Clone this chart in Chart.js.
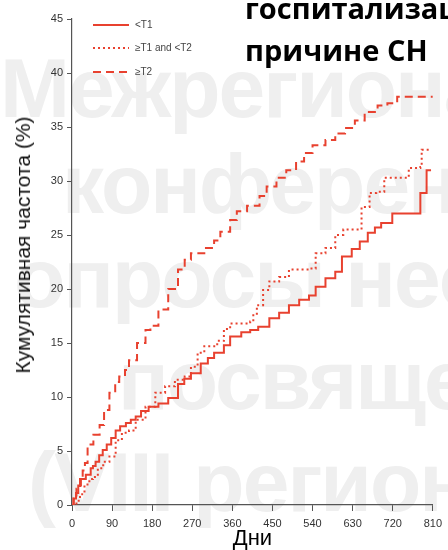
<!DOCTYPE html>
<html lang="ru">
<head>
<meta charset="utf-8">
<script src="https://cdn.jsdelivr.net/npm/chart.js@4.4.1/dist/chart.umd.min.js"></script>
<style>
  html, body { margin: 0; padding: 0; background: #fff; }
  #page { position: relative; width: 448px; height: 550px; overflow: hidden; }
  .wm {
    position: absolute;
    font-family: 'Liberation Sans', Arial, sans-serif;
    font-weight: bold;
    font-size: 84px;
    line-height: 84px;
    color: #efefef;
    white-space: nowrap;
    letter-spacing: -2px;
  }
  .slide {
    position: absolute;
    left: 245px;
    font-family: 'Open Sans', sans-serif;
    font-weight: bold;
    font-size: 29px;
    line-height: 29px;
    color: #000;
    white-space: nowrap;
  }
  #ytitle {
    position: absolute;
    left: 23px;
    top: 245px;
    transform: translate(-50%, -50%) rotate(-90deg);
    font-family: 'Liberation Sans', Arial, sans-serif;
    font-size: 21px;
    color: #111;
    white-space: nowrap;
  }
  #chart { position: absolute; left: 0; top: 0; }
</style>
</head>
<body>
<div id="page">
  <div class="wm" style="left:0px; top:46px;">Межрегиональная</div>
  <div class="wm" style="left:62px; top:142px;">конференция</div>
  <div class="wm" style="left:14px; top:236px;">опросы неотложной</div>
  <div class="wm" style="left:118px; top:338px;">посвященная</div>
  <div class="wm" style="left:28px; top:440px;">(VIII региональная</div>

  <canvas id="chart" width="448" height="550"></canvas>

  <div class="slide" style="top:-7px;">госпитализации по</div>
  <div class="slide" style="top:35px;">причине СН</div>
  <div id="ytitle">Кумулятивная частота (%)</div>
</div>

<script>
// серии: дни наблюдения и кумулятивная частота (%)
const seriesNames = ['<T1', '≥T1 and <T2', '≥T2'];

const daysLow = [0, 4, 9, 14, 20, 31, 42, 47, 53, 61, 69, 78, 88, 98, 108, 121, 132, 143, 155, 172,
  194, 216, 238, 252, 267, 289, 305, 319, 341, 355, 380, 400, 418, 443, 465, 487, 510, 532, 547, 569,
  591, 606, 628, 646, 664, 680, 694, 719, 782, 796, 806];
const pctLow = [0, 0.6, 1.1, 1.8, 2.4, 2.8, 3.4, 3.6, 4.0, 4.6, 5.1, 5.6, 6.2, 6.9, 7.3, 7.6, 7.9, 8.2, 8.7, 9.1,
  9.4, 9.9, 11.2, 11.7, 12.2, 13.1, 13.6, 14.1, 14.8, 15.6, 16.0, 16.2, 16.5, 17.3, 17.8, 18.5, 19.0, 19.4, 20.2, 21.0,
  21.6, 23.0, 23.7, 24.4, 25.2, 25.7, 26.1, 27.0, 28.9, 31.0, 31.0];

const daysMid = [0, 10, 18, 28, 39, 47, 58, 70, 84, 98, 112, 128, 143, 165, 187, 209, 231, 253, 267, 282,
  297, 326, 341, 355, 400, 407, 415, 429, 443, 465, 487, 532, 547, 569, 591, 609, 635, 650, 668, 683,
  701, 752, 756, 782, 785, 807];
const pctMid = [0, 0.4, 1.0, 1.9, 2.4, 2.6, 3.4, 4.0, 4.5, 6.0, 6.7, 6.9, 7.9, 9.1, 10.4, 11.0, 11.6, 11.9, 12.8, 14.1,
  14.7, 15.2, 16.3, 16.8, 17.0, 17.7, 18.5, 19.9, 20.7, 21.1, 21.8, 21.9, 23.3, 23.8, 25.0, 25.5, 25.5, 27.6, 28.9, 29.0,
  30.3, 30.3, 31.2, 31.3, 32.9, 32.9];

const daysHigh = [0, 3, 10, 18, 24, 29, 35, 48, 62, 72, 84, 97, 106, 119, 128, 146, 165, 176, 194, 216,
  238, 253, 267, 297, 319, 333, 355, 370, 393, 421, 437, 459, 481, 503, 521, 540, 569, 591, 613, 635,
  657, 686, 708, 730, 810];
const pctHigh = [0, 0.6, 1.5, 2.4, 3.2, 3.9, 5.6, 6.5, 7.4, 8.8, 10.4, 11.4, 11.9, 12.5, 13.4, 15.0, 16.2, 16.6, 18.1, 20.0,
  21.8, 22.7, 23.3, 23.8, 24.5, 25.3, 26.4, 27.2, 27.7, 28.6, 29.5, 30.3, 31.0, 31.8, 32.6, 33.3, 33.8, 34.4, 34.9, 35.6,
  36.4, 37.0, 37.2, 37.8, 37.8];

const xTicks = [0, 90, 180, 270, 360, 450, 540, 630, 720, 810];
const yTicks = [0, 5, 10, 15, 20, 25, 30, 35, 40, 45];

const lineColor = '#e8412f';
const axisColor = '#555';
const tickFont = "'Liberation Sans Narrow', 'Liberation Sans', Arial, sans-serif";

function toPoints(days, vals) {
    return days.map((d, i) => ({ x: d, y: vals[i] }));
}

function makeSet(i, days, vals, dash) {
    return {
        label: seriesNames[i],
        data: toPoints(days, vals),
        borderColor: lineColor,
        borderWidth: 2,
        borderDash: dash,
        stepped: true,
        pointRadius: 0,
        fill: false
    };
}

// легенда внутри области графика, слева вверху
const innerLegend = {
    id: 'innerLegend',
    afterDraw(chart) {
        const ctx = chart.ctx;
        const left = chart.chartArea.left;
        const rows = [25, 48, 72];
        ctx.save();
        chart.data.datasets.forEach((ds, i) => {
            const y = rows[i];
            ctx.strokeStyle = ds.borderColor;
            ctx.lineWidth = ds.borderWidth;
            ctx.setLineDash(ds.borderDash || []);
            ctx.beginPath();
            ctx.moveTo(left + 21, y);
            ctx.lineTo(left + 57, y);
            ctx.stroke();
            ctx.setLineDash([]);
            ctx.fillStyle = '#444';
            ctx.font = '10px ' + tickFont;
            ctx.textBaseline = 'middle';
            ctx.textAlign = 'left';
            ctx.fillText(ds.label, left + 63, y);
        });
        ctx.restore();
    }
};

new Chart(document.getElementById('chart'), {
    type: 'line',
    data: {
        datasets: [
            makeSet(0, daysLow, pctLow, []),
            makeSet(1, daysMid, pctMid, [2, 3]),
            makeSet(2, daysHigh, pctHigh, [8, 5])
        ]
    },
    options: {
        responsive: false,
        animation: false,
        layout: { padding: { top: 19, right: 9, left: 0, bottom: 0 } },
        plugins: {
            legend: { display: false },
            tooltip: { enabled: false }
        },
        scales: {
            x: {
                type: 'linear',
                min: 0,
                max: 810,
                afterBuildTicks: s => { s.ticks = xTicks.map(v => ({ value: v })); },
                afterFit: s => { s.height = 45; },
                grid: { drawOnChartArea: false, drawTicks: true, tickLength: 6, color: axisColor },
                border: { color: axisColor, width: 1.2 },
                ticks: { color: '#333', font: { family: tickFont, size: 11 }, padding: 6, maxRotation: 0 },
                title: {
                    display: true,
                    text: 'Дни',
                    color: '#000',
                    font: { family: "'Liberation Sans', Arial, sans-serif", size: 22, lineHeight: 1 },
                    padding: { top: 0, bottom: 0 }
                }
            },
            y: {
                min: 0,
                max: 45,
                afterBuildTicks: s => { s.ticks = yTicks.map(v => ({ value: v })); },
                afterFit: s => { s.width = 72; },
                grid: { drawOnChartArea: false, drawTicks: true, tickLength: 5, color: axisColor },
                border: { color: axisColor, width: 1.2 },
                ticks: { color: '#333', font: { family: tickFont, size: 11 }, padding: 4 }
            }
        }
    },
    plugins: [innerLegend]
});
</script>
</body>
</html>
